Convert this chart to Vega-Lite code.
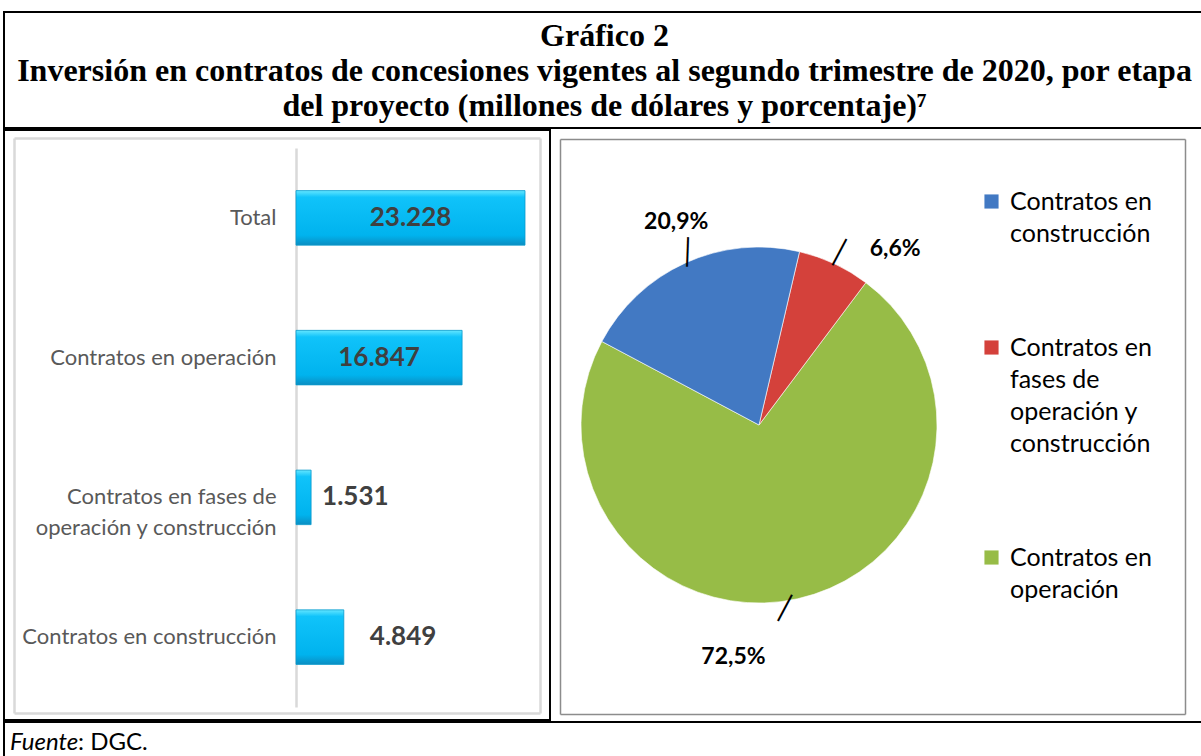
{
  "$schema": "https://vega.github.io/schema/vega-lite/v6.json",
  "padding": {"left": 3, "top": 11, "right": 0, "bottom": 0},
  "background": "white",
  "spacing": 0,
  "config": {
    "view": {"stroke": "black", "strokeWidth": 2},
    "locale": {"number": {"decimal": ",", "thousands": ".", "grouping": [3], "currency": ["$", ""]}},
    "font": "Lato",
    "style": {"guide-label": {"lineHeight": 32}}
  },
  "datasets": {
    "inversion": [
      {"categoria": "Total", "valor": 23228, "orden": 0},
      {"categoria": "Contratos en operación", "valor": 16847, "porcentaje": 0.725, "orden": 3},
      {"categoria": "Contratos en fases de operación y construcción", "valor": 1531, "porcentaje": 0.066, "orden": 2},
      {"categoria": "Contratos en construcción", "valor": 4849, "porcentaje": 0.209, "orden": 1}
    ],
    "titulo": [
      {"linea": 1, "texto": "Gráfico 2"},
      {"linea": 2, "texto": "Inversión en contratos de concesiones vigentes al segundo trimestre de 2020, por etapa"},
      {"linea": 3, "texto": "del proyecto (millones de dólares y porcentaje)⁷"}
    ],
    "fuente": [
      {"parte": "Fuente", "estilo": "italic"},
      {"parte": ": DGC.", "estilo": "normal"}
    ],
    "marco": [{"m": 0}]
  },
  "vconcat": [
    {
      "width": 1201,
      "height": 116,
      "data": {"name": "titulo"},
      "mark": {"type": "text", "font": "Liberation Serif", "fontWeight": "bold", "fontSize": 32, "color": "black", "baseline": "alphabetic"},
      "encoding": {
        "y": {"field": "linea", "type": "ordinal", "scale": {"type": "point", "range": [34, 104], "padding": 0}, "axis": null},
        "text": {"field": "texto", "type": "nominal"}
      }
    },
    {
      "hconcat": [
        {
          "width": 546,
          "height": 590,
          "layer": [
            {
              "data": {"name": "marco"},
              "mark": {"type": "point", "opacity": 0},
              "encoding": {
                "x": {"datum": 0, "type": "quantitative", "scale": {"domain": [0, 1], "range": [10, 536]},
                  "axis": {"orient": "bottom", "offset": -7, "domainColor": "#D9D9D9", "domainWidth": 2.5, "labels": false, "ticks": false, "grid": false, "title": null, "values": []}},
                "y": {"datum": 0, "type": "quantitative", "scale": {"domain": [0, 1], "range": [583, 8]},
                  "axis": {"orient": "left", "offset": -10, "domainColor": "#D9D9D9", "domainWidth": 2.5, "labels": false, "ticks": false, "grid": false, "title": null, "values": []}}
              }
            },
            {
              "data": {"name": "marco"},
              "mark": {"type": "point", "opacity": 0},
              "encoding": {
                "x": {"datum": 0, "type": "quantitative", "scale": {"domain": [0, 1], "range": [10, 536]},
                  "axis": {"orient": "top", "offset": -8, "domainColor": "#D9D9D9", "domainWidth": 2.5, "labels": false, "ticks": false, "grid": false, "title": null, "values": []}},
                "y": {"datum": 0, "type": "quantitative", "scale": {"domain": [0, 1], "range": [583, 8]},
                  "axis": {"orient": "right", "offset": -10, "domainColor": "#D9D9D9", "domainWidth": 2.5, "labels": false, "ticks": false, "grid": false, "title": null, "values": []}}
              }
            },
            {
              "data": {"name": "inversion"},
              "mark": {
                "type": "bar",
                "fill": {"gradient": "linear", "x1": 0, "y1": 0, "x2": 0, "y2": 1, "stops": [
                  {"offset": 0, "color": "#63E6FF"},
                  {"offset": 0.12, "color": "#10C3FA"},
                  {"offset": 0.82, "color": "#00B3EE"},
                  {"offset": 1, "color": "#0B8EC2"}
                ]},
                "stroke": "#0A9ACD",
                "strokeWidth": 0.8
              },
              "encoding": {
                "x": {"field": "valor", "type": "quantitative", "scale": {"domain": [0, 23228], "range": [292, 521]}, "axis": null},
                "y": {
                  "field": "categoria",
                  "type": "nominal",
                  "scale": {"domain": ["Total", "Contratos en operación", "Contratos en fases de operación y construcción", "Contratos en construcción"], "range": [18, 577], "paddingInner": 0.61, "paddingOuter": 0.305},
                  "axis": {
                    "title": null,
                    "orient": "left",
                    "offset": -292,
                    "ticks": false,
                    "tickSize": 0,
                    "labelPadding": 20,
                    "domainColor": "#D9D9D9",
                    "domainWidth": 2.5,
                    "labelFont": "Lato",
                    "labelFontSize": 22,
                    "labelColor": "#595959",
                    "labelLimit": 0,
                    "labelLineHeight": 31,
                    "labelExpr": "datum.value == 'Contratos en fases de operación y construcción' ? ['Contratos en fases de', 'operación y construcción'] : datum.value",
                    "grid": false
                  }
                }
              }
            },
            {
              "data": {"name": "inversion"},
              "transform": [{"filter": "datum.valor > 10000"}],
              "mark": {"type": "text", "font": "Lato", "fontWeight": "bold", "fontSize": 26, "color": "#404040", "baseline": "middle"},
              "encoding": {
                "x": {"field": "valor", "type": "quantitative", "scale": {"domain": [0, 46456], "range": [292, 521]}, "axis": null},
                "y": {
                  "field": "categoria",
                  "type": "nominal",
                  "scale": {"domain": ["Total", "Contratos en operación", "Contratos en fases de operación y construcción", "Contratos en construcción"], "range": [18, 577], "paddingInner": 0.61, "paddingOuter": 0.305},
                  "axis": null
                },
                "text": {"field": "valor", "type": "quantitative", "format": ",d"}
              }
            },
            {
              "data": {"name": "inversion"},
              "transform": [{"filter": "datum.valor < 10000"}],
              "mark": {"type": "text", "font": "Lato", "fontWeight": "bold", "fontSize": 26, "color": "#404040", "baseline": "middle", "align": "left", "dx": {"expr": "datum.valor < 2000 ? 11 : 26"}},
              "encoding": {
                "x": {"field": "valor", "type": "quantitative", "scale": {"domain": [0, 23228], "range": [292, 521]}, "axis": null},
                "y": {
                  "field": "categoria",
                  "type": "nominal",
                  "scale": {"domain": ["Total", "Contratos en operación", "Contratos en fases de operación y construcción", "Contratos en construcción"], "range": [18, 577], "paddingInner": 0.61, "paddingOuter": 0.305},
                  "axis": null
                },
                "text": {"field": "valor", "type": "quantitative", "format": ",d"}
              }
            }
          ],
          "resolve": {"scale": {"x": "independent", "y": "independent"}, "axis": {"x": "independent", "y": "independent"}}
        },
        {
          "width": 416,
          "height": 590,
          "view": {"stroke": null},
          "layer": [
            {
              "data": {"name": "marco"},
              "mark": {"type": "point", "opacity": 0},
              "encoding": {
                "x": {"datum": 0, "type": "quantitative", "scale": {"domain": [0, 1], "range": [9, 634]},
                  "axis": {"orient": "bottom", "offset": -6, "domainColor": "#8C8C8C", "domainWidth": 1.5, "labels": false, "ticks": false, "grid": false, "title": null, "values": []}},
                "y": {"datum": 0, "type": "quantitative", "scale": {"domain": [0, 1], "range": [584, 9]},
                  "axis": {"orient": "left", "offset": -9, "domainColor": "#8C8C8C", "domainWidth": 1.5, "labels": false, "ticks": false, "grid": false, "title": null, "values": []}}
              }
            },
            {
              "data": {"name": "marco"},
              "mark": {"type": "point", "opacity": 0},
              "encoding": {
                "x": {"datum": 0, "type": "quantitative", "scale": {"domain": [0, 1], "range": [9, 634]},
                  "axis": {"orient": "top", "offset": -9, "domainColor": "#8C8C8C", "domainWidth": 1.5, "labels": false, "ticks": false, "grid": false, "title": null, "values": []}},
                "y": {"datum": 0, "type": "quantitative", "scale": {"domain": [0, 1], "range": [584, 9]},
                  "axis": {"orient": "right", "offset": 218, "domainColor": "#8C8C8C", "domainWidth": 1.5, "labels": false, "ticks": false, "grid": false, "title": null, "values": []}}
              }
            },
            {
              "data": {"name": "inversion"},
              "transform": [
                {"filter": "datum.categoria != 'Total'"}
              ],
              "encoding": {
                "theta": {"field": "valor", "type": "quantitative", "stack": true, "scale": {"range": [-1.0821, 5.2011]}},
                "order": {"field": "orden", "type": "quantitative"},
                "color": {
                  "field": "categoria",
                  "type": "nominal",
                  "scale": {
                    "domain": ["Contratos en construcción", "Contratos en fases de operación y construcción", "Contratos en operación"],
                    "range": ["#4279C3", "#D4413B", "#97BC47"]
                  },
                  "legend": {
                    "orient": "none",
                    "legendX": 975,
                    "legendY": 177,
                    "title": null,
                    "symbolType": "square",
                    "symbolSize": 200,
                    "symbolStrokeWidth": 0,
                    "labelFont": "Lato",
                    "labelFontSize": 25,
                    "labelColor": "black",
                    "labelLimit": 0,
                    "labelOffset": 6,
                    "rowPadding": 88,
                    "labelExpr": "datum.value == 'Contratos en construcción' ? ['Contratos en', 'construcción'] : datum.value == 'Contratos en operación' ? ['Contratos en', 'operación'] : ['Contratos en', 'fases de', 'operación y', 'construcción']",
                    "encode": {"labels": {"update": {"lineHeight": {"value": 33}}}}
                  }
                }
              },
              "layer": [
                {
                  "mark": {"type": "arc", "outerRadius": 178, "stroke": "white", "strokeWidth": 1, "strokeOpacity": 0.6}
                },
                {
                  "mark": {
                    "type": "text",
                    "radius": 192,
                    "font": "DejaVu Sans",
                    "fontSize": 25,
                    "baseline": "middle",
                    "align": "center",
                    "angle": {"expr": "datum.orden == 1 ? 2 : 28"},
                    "dx": {"expr": "datum.orden == 1 ? 8 : datum.orden == 2 ? 0 : -16"},
                    "dy": {"expr": "datum.orden == 1 ? 2 : datum.orden == 2 ? 2 : 4"}
                  },
                  "encoding": {
                    "color": {"value": "black"},
                    "detail": {"field": "categoria", "type": "nominal"},
                    "text": {"value": "│"}
                  }
                },
                {
                  "mark": {
                    "type": "text",
                    "radius": 205,
                    "font": "Lato",
                    "fontWeight": "bold",
                    "fontSize": 23,
                    "align": {"expr": "datum.orden == 1 ? 'center' : datum.orden == 2 ? 'left' : 'right'"},
                    "baseline": {"expr": "datum.orden == 1 ? 'alphabetic' : 'middle'"},
                    "dx": {"expr": "datum.orden == 1 ? 2 : datum.orden == 2 ? 24 : -38"},
                    "dy": {"expr": "datum.orden == 1 ? -9 : datum.orden == 2 ? 10 : 32"}
                  },
                  "encoding": {
                    "color": {"value": "black"},
                    "detail": {"field": "categoria", "type": "nominal"},
                    "text": {"field": "porcentaje", "type": "quantitative", "format": ".1%"}
                  }
                }
              ]
            }
          ],
          "resolve": {"scale": {"x": "independent", "y": "independent"}, "axis": {"x": "independent", "y": "independent"}}
        }
      ],
      "spacing": 0
    },
    {
      "width": 1201,
      "height": 42,
      "data": {"name": "fuente"},
      "encoding": {
        "x": {"datum": 0, "type": "quantitative", "scale": {"domain": [0, 1]}, "axis": null},
        "text": {"field": "parte", "type": "nominal"}
      },
      "layer": [
        {
          "transform": [{"filter": "datum.estilo == 'italic'"}],
          "mark": {"type": "text", "align": "left", "baseline": "middle", "font": "Lato", "fontStyle": "italic", "fontSize": 24, "color": "black", "dx": 6}
        },
        {
          "transform": [{"filter": "datum.estilo == 'normal'"}],
          "mark": {"type": "text", "align": "left", "baseline": "middle", "font": "Lato", "fontSize": 24, "color": "black", "dx": 74}
        }
      ]
    }
  ]
}
